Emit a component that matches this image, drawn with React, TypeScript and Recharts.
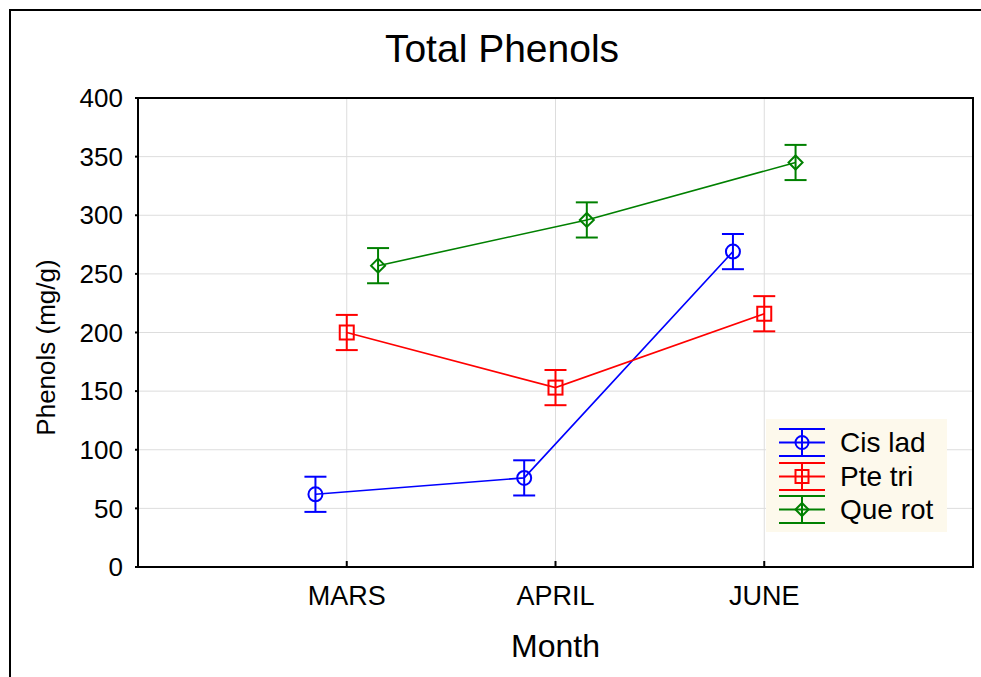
import React from "react";
import {
  ScatterChart,
  Scatter,
  XAxis,
  YAxis,
  CartesianGrid,
  ErrorBar,
  ReferenceArea,
} from "recharts";

const months = ["MARS", "APRIL", "JUNE"];
const cisLad = [62, 76, 269];
const pteTri = [200, 153, 216];
const queRot = [257, 296, 345];
const cisLadErr = [15, 15, 15];
const pteTriErr = [15, 15, 15];
const queRotErr = [15, 15, 15];
const yTicks = [0, 50, 100, 150, 200, 250, 300, 350, 400];

const series = [
  { name: "Cis lad", color: "#0000ff", values: cisLad, err: cisLadErr, shift: -0.15, marker: "circle" },
  { name: "Pte tri", color: "#ff0000", values: pteTri, err: pteTriErr, shift: 0, marker: "square" },
  { name: "Que rot", color: "#008000", values: queRot, err: queRotErr, shift: 0.15, marker: "diamond" },
];

const toPoints = (values: number[], err: number[], shift: number) =>
  values.map((v, i) => ({ x: i + 1 + shift, y: v, err: err[i] }));

function Marker({ cx, cy, kind, color, size = 7 }: any) {
  if (kind === "circle")
    return <circle cx={cx} cy={cy} r={size} fill="none" stroke={color} strokeWidth={2} />;
  if (kind === "square")
    return (
      <rect x={cx - size} y={cy - size} width={size * 2} height={size * 2} fill="none" stroke={color} strokeWidth={2} />
    );
  return (
    <polygon
      points={`${cx},${cy - size} ${cx + size},${cy} ${cx},${cy + size} ${cx - size},${cy}`}
      fill="none"
      stroke={color}
      strokeWidth={2}
    />
  );
}

// rotated y-axis title, a bit below the plot's middle as in the original
function YTitle(props: any) {
  const vb = props.viewBox || { x: 0, y: 0, height: 0 };
  const cx = vb.x + 46;
  const cy = vb.y + vb.height / 2 + 15;
  return (
    <text
      x={cx}
      y={cy}
      transform={`rotate(-90 ${cx} ${cy})`}
      textAnchor="middle"
      dominantBaseline="central"
      fontSize={26}
      fill="#000"
    >
      Phenols (mg/g)
    </text>
  );
}

function LegendBox() {
  return (
    <div
      style={{
        position: "absolute",
        left: 766,
        top: 419,
        width: 181,
        height: 113,
        background: "#fdf9ec",
        paddingTop: 7,
        boxSizing: "border-box",
      }}
    >
      {series.map((s) => (
        <div key={s.name} style={{ display: "flex", alignItems: "center", height: 33.5 }}>
          <svg width={74} height={33} style={{ overflow: "visible" }}>
            <line x1={13} x2={59} y1={3} y2={3} stroke={s.color} strokeWidth={2} />
            <line x1={13} x2={59} y1={16.5} y2={16.5} stroke={s.color} strokeWidth={2} />
            <line x1={13} x2={59} y1={30} y2={30} stroke={s.color} strokeWidth={2} />
            <line x1={36} x2={36} y1={3} y2={30} stroke={s.color} strokeWidth={2} />
            <Marker cx={36} cy={16.5} kind={s.marker} color={s.color} size={6.5} />
          </svg>
          <span style={{ fontSize: 28, color: "#000", lineHeight: "33px" }}>{s.name}</span>
        </div>
      ))}
    </div>
  );
}

export default function App() {
  return (
    <div
      style={{
        position: "absolute",
        left: 0,
        top: 0,
        width: 981,
        height: 677,
        overflow: "hidden",
        background: "#fff",
        fontFamily: "'Liberation Sans', Arial, Helvetica, sans-serif",
      }}
    >
      <div
        style={{
          position: "absolute",
          left: 9,
          top: 9,
          width: 1100,
          height: 800,
          borderLeft: "2px solid #000",
          borderTop: "2px solid #000",
        }}
      />
      <div
        style={{
          position: "absolute",
          left: 0,
          top: 29,
          width: 1004,
          textAlign: "center",
          fontSize: 39,
          lineHeight: "39px",
          color: "#000",
        }}
      >
        Total Phenols
      </div>
      <div style={{ position: "absolute", left: 0, top: 0 }}>
        <ScatterChart width={981} height={677} margin={{ top: 98, right: 8, bottom: 0, left: 0 }}>
          <CartesianGrid stroke="#dddddd" strokeWidth={1} />
          <XAxis
            type="number"
            dataKey="x"
            domain={[0, 4]}
            ticks={[1, 2, 3]}
            interval={0}
            allowDataOverflow
            tickFormatter={(v: number) => months[Math.round(v) - 1]}
            height={110}
            tickSize={-6}
            tickMargin={25}
            axisLine={{ stroke: "#000", strokeWidth: 2 }}
            tickLine={{ stroke: "#000", strokeWidth: 2 }}
            tick={{ fill: "#000", fontSize: 27 }}
            label={{ value: "Month", position: "insideBottom", offset: 20, fontSize: 32, fill: "#000" }}
          />
          <YAxis
            type="number"
            dataKey="y"
            domain={[0, 400]}
            ticks={yTicks}
            interval={0}
            allowDataOverflow
            width={138}
            tickSize={3}
            tickMargin={12}
            axisLine={{ stroke: "#000", strokeWidth: 2 }}
            tickLine={{ stroke: "#000", strokeWidth: 2 }}
            tick={{ fill: "#000", fontSize: 26 }}
            label={YTitle}
          />
          <YAxis
            yAxisId="right"
            orientation="right"
            type="number"
            domain={[0, 400]}
            ticks={yTicks}
            interval={0}
            width={0}
            tick={false}
            tickSize={-6}
            axisLine={false}
            tickLine={{ stroke: "#000", strokeWidth: 2 }}
          />
          <ReferenceArea x1={0} x2={4} y1={0} y2={400} fill="none" stroke="#000" strokeWidth={2} />
          {series.map((s) => (
            <Scatter
              key={s.name}
              name={s.name}
              data={toPoints(s.values, s.err, s.shift)}
              fill={s.color}
              line={{ stroke: s.color, strokeWidth: 1.6 }}
              shape={(p: any) => <Marker cx={p.cx} cy={p.cy} kind={s.marker} color={s.color} />}
              isAnimationActive={false}
            >
              <ErrorBar dataKey="err" direction="y" width={11} stroke={s.color} strokeWidth={2} />
            </Scatter>
          ))}
        </ScatterChart>
      </div>
      <LegendBox />
    </div>
  );
}
